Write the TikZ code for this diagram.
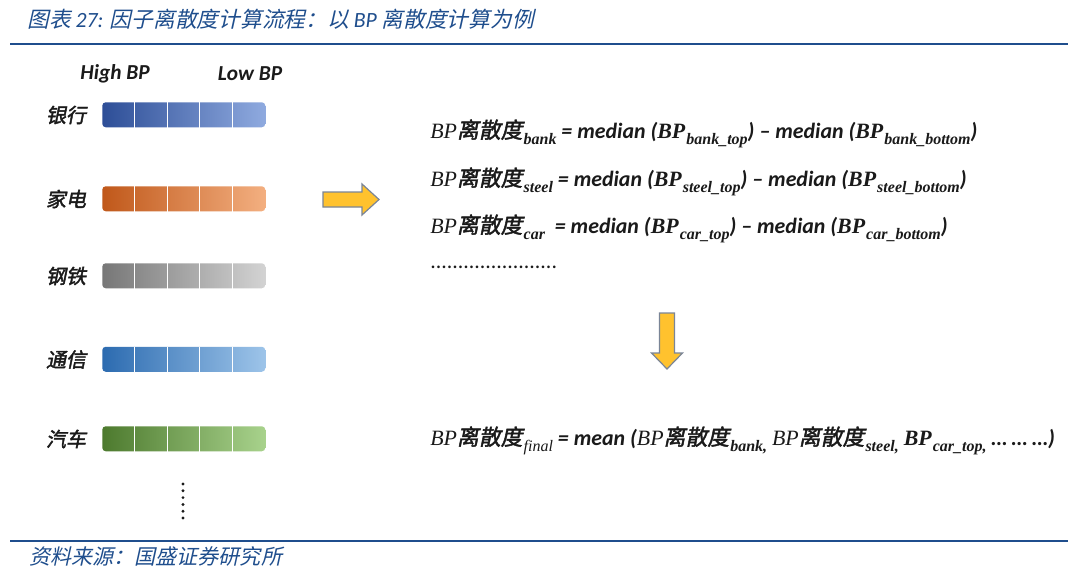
\documentclass[tikz,border=0pt]{standalone}
\usepackage{fontspec}
\setmainfont{Carlito}
\newfontfamily\calf{Carlito}
\newfontfamily\cjk[FakeSlant=0.22]{Noto Sans CJK SC}
\newfontfamily\cjkb[FakeSlant=0.2,FakeBold=2]{Noto Sans CJK SC}
\newfontfamily\ser{Liberation Serif}
\definecolor{titleblue}{HTML}{1F4E8D}
\definecolor{bankL}{HTML}{2D4E97}\definecolor{bankR}{HTML}{8FAADF}
\definecolor{applL}{HTML}{C0581A}\definecolor{applR}{HTML}{F3AF80}
\definecolor{steelL}{HTML}{777777}\definecolor{steelR}{HTML}{D3D3D3}
\definecolor{telL}{HTML}{2C6BB0}\definecolor{telR}{HTML}{9DC4E9}
\definecolor{carL}{HTML}{4D7A2E}\definecolor{carR}{HTML}{A8D28C}
\definecolor{arrowfill}{HTML}{FFC22E}
\definecolor{arrowline}{HTML}{7A8597}
\definecolor{txt}{HTML}{1A1A1A}
\newcommand\BPi{{\ser\itshape BP}}
\newcommand\BPb{{\ser\bfseries\itshape BP}}
\newcommand\LSD{{\cjkb 离散度}}
\newcommand\sbs[1]{\kern0.8pt\raisebox{-0.3em}{\fontsize{12}{12}\selectfont\ser\bfseries\itshape #1}}
\newcommand\cb[1]{{\calf\bfseries\itshape #1}}
\tikzset{
  formula/.style={anchor=base west, inner sep=0pt, text=txt, font=\fontsize{16.4}{19}\selectfont},
  seclabel/.style={text=txt, inner sep=0pt, font=\fontsize{15}{18}\selectfont\cjkb},
  colhead/.style={text=txt, inner sep=0pt, font=\fontsize{16}{18}\selectfont\calf\bfseries\itshape},
  barbox/.style={anchor=north west, inner sep=0pt, rounded corners=2.6pt,
     minimum width=122.25pt, minimum height=18.75pt},
  divider/.style={white, line width=0.9pt},
  blockarrow/.style={fill=arrowfill, draw=arrowline, line width=0.9pt, line join=miter},
  rule/.style={titleblue, line width=2pt},
}
\begin{document}
\begin{tikzpicture}[x=0.75pt,y=-0.75pt]
\fill[white] (0,0) rectangle (1080,572);
\useasboundingbox (0,0) rectangle (1080,572);
% title and rules
\node[anchor=west, inner sep=0pt, text=titleblue, font=\fontsize{16.3}{18}\selectfont\cjk] (title) at (27,19)
  {图表 {\calf\itshape 27:} 因子离散度计算流程：以 {\calf\itshape BP} 离散度计算为例};
\draw[rule] (10,44) -- (1068,44);
\draw[rule, line width=1.4pt] (10,541) -- (1068,541);
\node[anchor=west, inner sep=0pt, text=titleblue, font=\fontsize{15.8}{18}\selectfont\cjk] (source) at (29,556)
  {资料来源：国盛证券研究所};
% column headings
\node[colhead] (high) at (115,74) {High BP};
\node[colhead] (low) at (250,74) {Low BP};
% bars
\foreach \nm/\lab/\yy/\cl/\cr in {bank/银行/102/bankL/bankR, appl/家电/186/applL/applR,
   steel/钢铁/263/steelL/steelR, tel/通信/346.5/telL/telR, car/汽车/426/carL/carR}{
  \node[seclabel] (l\nm) at (66,\yy+13) {\lab};
  \node[barbox, left color=\cl, right color=\cr] (b\nm) at (102,\yy) {};
  \foreach \i in {1,...,4}{
    \draw[divider] ([xshift=\i*24.45pt]b\nm.north west) -- ([xshift=\i*24.45pt]b\nm.south west);
  }
}
% vertical dots
\foreach \k in {0,...,5}{
  \fill[txt] (183,484+\k*6.8) circle (1.6);
}
% arrows
\draw[blockarrow] (323,192) -- (362,192) -- (362,184) -- (379,199.5) -- (362,215) -- (362,207) -- (323,207) -- cycle;
\draw[blockarrow] (659.5,313) -- (674.5,313) -- (674.5,353) -- (682.5,353) -- (667,369) -- (651.5,353) -- (659.5,353) -- cycle;
% formulas
\node[formula] (f1) at (430,138) {\BPi\LSD\sbs{bank}\cb{\ = median (}\BPb\sbs{bank\_top}\cb{) – median (}\BPb\sbs{bank\_bottom}\cb{)}};
\node[formula] (f2) at (430,186) {\BPi\LSD\sbs{steel}\cb{\ = median (}\BPb\sbs{steel\_top}\cb{) – median (}\BPb\sbs{steel\_bottom}\cb{)}};
\node[formula] (f3) at (430,233) {\BPi\LSD\sbs{car}\cb{\ \ = median (}\BPb\sbs{car\_top}\cb{) – median (}\BPb\sbs{car\_bottom}\cb{)}};
\node[formula] (fdots) at (430,268) {\calf .......................};
\node[formula] (ffinal) at (430,445) {\BPi\LSD\sbs{\mdseries final}\cb{\ = mean (}\BPi\LSD\sbs{bank,}\ \BPi\LSD\sbs{steel,}\ \BPb\sbs{car\_top,}\ \cb{… … …)}};
\end{tikzpicture}
\end{document}
